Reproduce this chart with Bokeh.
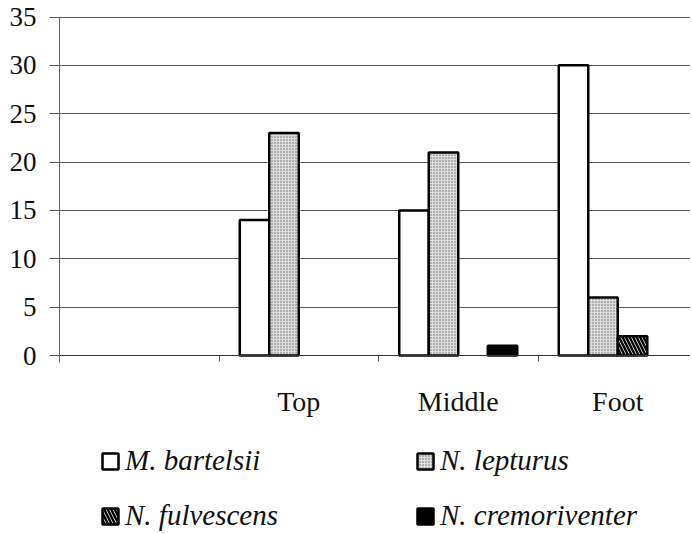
from bokeh.plotting import figure
from bokeh.models import (ColumnDataSource, Range1d, FixedTicker, Legend,
                          LegendItem, LinearAxis)
from bokeh.transform import dodge
from bokeh.embed import file_html
from bokeh.resources import INLINE

categories = ["", "Top", "Middle", "Foot"]
species = ["M. bartelsii", "N. lepturus", "N. fulvescens", "N. cremoriventer"]
m_bartelsii = [0, 14, 15, 30]
n_lepturus = [0, 23, 21, 6]
n_fulvescens = [0, 0, 0, 2]
n_cremoriventer = [0, 0, 1, 0]
y_ticks = [0, 5, 10, 15, 20, 25, 30, 35]

series = [m_bartelsii, n_lepturus, n_fulvescens, n_cremoriventer]
data = dict(x=list(range(len(categories))))
for i, vals in enumerate(series):
    data["v%d" % i] = vals
    data["a%d" % i] = [1.0 if v > 0 else 0.0 for v in vals]
source = ColumnDataSource(data)

FONT = "Liberation Serif"

p = figure(width=690, height=532, output_backend="svg", toolbar_location=None,
           x_range=Range1d(-0.5, 3.456), y_range=Range1d(-18.30, 35.26),
           x_axis_location=None,
           min_border_left=59, min_border_right=0, min_border_top=14,
           min_border_bottom=0)
p.outline_line_color = None
p.xgrid.visible = False
p.ygrid.ticker = FixedTicker(ticks=y_ticks)
p.ygrid.grid_line_color = "#555555"
p.ygrid.grid_line_width = 1

ya = p.yaxis[0]
ya.ticker = FixedTicker(ticks=y_ticks, minor_ticks=[])
ya.bounds = (-0.7, 35)
ya.major_tick_out = 10
ya.major_tick_in = 0
ya.minor_tick_line_color = None
ya.axis_line_color = "#666666"
ya.major_tick_line_color = "#555555"
ya.major_label_standoff = 13
ya.major_label_text_font = FONT
ya.major_label_text_font_size = "27px"
ya.major_label_text_color = "#111111"

xa = LinearAxis(fixed_location=0)
xa.ticker = FixedTicker(ticks=list(range(len(categories))),
                        minor_ticks=[0.5, 1.5, 2.5])
xa.major_tick_out = 0
xa.major_tick_in = 0
xa.minor_tick_out = 6
xa.minor_tick_in = 0
xa.minor_tick_line_color = "#555555"
xa.axis_line_color = "#333333"
xa.major_label_overrides = {i: c for i, c in enumerate(categories)}
xa.major_label_standoff = 24
xa.major_label_text_font = FONT
xa.major_label_text_font_size = "28px"
xa.major_label_text_color = "#111111"
p.add_layout(xa, "below")

w = 0.185
styles = [
    dict(fill_color="white"),
    dict(fill_color="#dddddd", hatch_pattern="dot", hatch_color="#6a6a6a",
         hatch_scale=3, hatch_weight=1),
    dict(fill_color="white", hatch_pattern="left_diagonal_line",
         hatch_color="black", hatch_scale=7, hatch_weight=2.5),
    dict(fill_color="black"),
]
renderers = []
for i in range(4):
    r = p.vbar(x=dodge("x", (i - 1.5) * w), top="v%d" % i, bottom=0, width=w,
               source=source, line_color="black", line_width=2.5,
               line_alpha="a%d" % i, **styles[i])
    renderers.append(r)

order = [0, 2, 1, 3]
items = []
for i in order:
    first = next(k for k, v in enumerate(series[i]) if v > 0)
    items.append(LegendItem(label=species[i], renderers=[renderers[i]], index=first))
legend = Legend(items=items, ncols=2, location=(41, 0), margin=0, padding=0,
                spacing=22, glyph_width=20, glyph_height=20, label_standoff=5,
                label_width=268, border_line_color=None,
                background_fill_alpha=0,
                label_text_font=FONT, label_text_font_size="29px",
                label_text_font_style="italic", label_text_color="#111111")
p.add_layout(legend)

open("out.html", "w").write(file_html(p, INLINE))
